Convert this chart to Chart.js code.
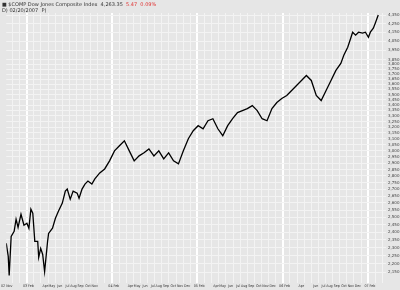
<!DOCTYPE html>
<html>
<head>
<meta charset="utf-8">
<script src="https://cdn.jsdelivr.net/npm/chart.js@4"></script>
<style>
  body { margin: 0; background: #e6e6e6; }
  #wrap { position: relative; width: 400px; height: 290px; }
  .hdr { position: absolute; left: 2px; font: 5px "DejaVu Sans", sans-serif; color: #333; white-space: pre; }
  .red { color: #e03030; }
</style>
</head>
<body>
<div id="wrap">
  <canvas id="chart" width="400" height="290"></canvas>
  <div class="hdr" style="top:1px">■ $COMP Dow Jones Composite Index  4,263.35  <span class="red">5.47  0.09%</span></div>
  <div class="hdr" style="top:7px">D) 02/20/2007  P)</div>
</div>
<script>
// month index: 0 = Nov 2002
const monthLabels = [
  "02 Nov", "", "", "03 Feb", "", "Apr", "May", "Jun", "Jul", "Aug", "Sep", "Oct",
  "Nov", "", "", "04 Feb", "", "Apr", "May", "Jun", "Jul", "Aug", "Sep", "Oct",
  "Nov", "Dec", "", "05 Feb", "", "Apr", "May", "Jun", "Jul", "Aug", "Sep", "Oct",
  "Nov", "Dec", "", "06 Feb", "", "Apr", "", "Jun", "Jul", "Aug", "Sep", "Oct",
  "Nov", "Dec", "", "07 Feb", ""
];

const priceTicks = [
  2150, 2200, 2250, 2300, 2350, 2400, 2450, 2500, 2550, 2600, 2650, 2700,
  2750, 2800, 2850, 2900, 2950, 3000, 3050, 3100, 3150, 3200, 3250, 3300,
  3350, 3400, 3450, 3500, 3550, 3600, 3650, 3700, 3750, 3800, 3850,
  3950, 4050, 4150, 4250, 4350
];

// position in months since Nov 2002, close
const t = [
  -0.87, -0.59, -0.46, -0.18, 0.24, 0.51, 0.79, 1.2, 1.62, 2.03, 2.31, 2.59,
  2.86, 3.14, 3.55, 3.69, 3.97, 4.25, 4.52, 4.94, 5.08, 5.63, 6.04, 6.46,
  7.01, 7.43, 7.7, 8.12, 8.53, 9.09, 9.36, 9.78, 10.19, 10.61, 11.16, 11.58,
  12.27, 12.96, 13.65, 14.34, 15.04, 15.73, 16.42, 17.11, 17.8, 18.49, 19.18,
  19.88, 20.57, 21.26, 21.95, 22.64, 23.33, 24.02, 24.72, 25.41, 26.1, 26.79,
  27.48, 28.17, 28.87, 29.56, 30.25, 30.94, 31.63, 32.32, 33.01, 33.71, 34.4,
  35.09, 35.78, 36.47, 37.16, 37.85, 38.55, 39.24, 39.93, 40.62, 41.31, 42.0,
  42.7, 43.39, 44.08, 44.77, 45.46, 46.15, 46.57, 47.12, 47.54, 47.81, 48.23,
  48.64, 49.2, 49.61, 50.03, 50.3, 50.72, 50.99, 51.41
];
const close = [
  2328, 2246, 2132, 2373, 2406, 2487, 2432, 2521, 2446, 2459, 2426, 2556,
  2528, 2341, 2341, 2240, 2296, 2258, 2155, 2341, 2392, 2426, 2493, 2542,
  2599, 2686, 2701, 2627, 2686, 2671, 2634, 2701, 2738, 2761, 2738, 2777,
  2823, 2854, 2918, 2999, 3041, 3083, 2999, 2918, 2958, 2983, 3015, 2958,
  2999, 2934, 2983, 2918, 2894, 2999, 3100, 3169, 3213, 3186, 3257, 3275,
  3186, 3126, 3213, 3275, 3330, 3348, 3367, 3395, 3348, 3275, 3257, 3367,
  3423, 3461, 3490, 3538, 3587, 3637, 3687, 3637, 3490, 3442, 3538, 3637,
  3738, 3811, 3896, 3983, 4083, 4151, 4117, 4151, 4140, 4151, 4094, 4151,
  4197, 4255, 4350
];

const yearLines = [2, 14, 26, 38, 50];

new Chart(document.getElementById("chart"), {
  type: "line",
  data: {
    datasets: [{
      data: t.map((v, i) => ({ x: v, y: close[i] })),
      borderColor: "#000",
      borderWidth: 1.3,
      pointRadius: 0,
      tension: 0,
    }],
  },
  options: {
    responsive: false,
    animation: false,
    layout: { padding: { top: 13, left: 0, right: 0, bottom: 1 } },
    plugins: { legend: { display: false }, tooltip: { enabled: false } },
    scales: {
      x: {
        type: "linear",
        min: -0.87,
        max: 52.5,
        afterBuildTicks: (s) => {
          s.ticks = monthLabels.map((_, i) => ({ value: i }));
        },
        ticks: {
          autoSkip: false,
          maxRotation: 0,
          align: "end",
          padding: 1,
          font: { size: 3.6, family: "'Liberation Sans Narrow', 'DejaVu Sans Condensed', sans-serif" },
          color: "#333",
          callback: (v) => monthLabels[v] || "",
        },
        grid: {
          drawTicks: false,
          color: (c) => (yearLines.includes(c.tick && c.tick.value) ? "#ffffff" : "#f3f3f3"),
          lineWidth: (c) => (yearLines.includes(c.tick && c.tick.value) ? 2 : 1),
        },
        border: { display: false },
      },
      y: {
        type: "logarithmic",
        position: "right",
        min: 2090,
        max: 4375,
        afterBuildTicks: (s) => {
          s.ticks = priceTicks.map((v) => ({ value: v }));
        },
        afterFit: (s) => { s.width = 14; },
        ticks: {
          autoSkip: false,
          padding: 2,
          font: { size: 4, family: "DejaVu Sans" },
          color: "#444",
          callback: (v) => v.toLocaleString("en-US"),
        },
        grid: { drawTicks: false, color: "#f3f3f3", lineWidth: 1 },
        border: { display: false },
      },
    },
  },
});
</script>
</body>
</html>
